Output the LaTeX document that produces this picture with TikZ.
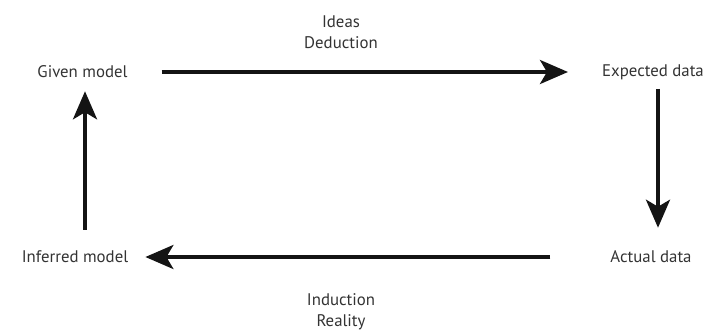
\documentclass[tikz,border=0pt]{standalone}
\usepackage{fontspec}
\setmainfont{PT Sans}
\usetikzlibrary{arrows.meta}

\begin{document}
\begin{tikzpicture}[x=1pt,y=-1pt,
	trans/.style={line width=3.8pt,-{Stealth[length=28pt,width=24pt,inset=7pt]},color=black!92},
	lbl/.style={inner sep=0pt,align=center,text=black!80,font=\fontsize{16.8}{21}\selectfont}]
\useasboundingbox (0,0) rectangle (708,332);
\node[lbl](A) at (82.5,72)
	{Given model};
\node[lbl](B) at (653,72)
	{Expected data};
\node[lbl](C) at (651,257)
	{Actual data};
\node[lbl](D) at (75,257)
	{Inferred model};
\node[lbl](E) at (341,32)
	{Ideas \\ Deduction};
\node[lbl](F) at (341,312)
	{Induction \\ Reality};
\draw[trans,shorten <=34pt,shorten >=34pt] (A.east) -- (B.west);
\draw[trans,shorten <=9pt,shorten >=23pt] ([xshift=5pt]B.south) -- ([xshift=7pt]C.north);
\draw[trans,shorten <=60pt,shorten >=17pt] (C.west) -- (D.east);
\draw[trans,shorten <=21pt,shorten >=13pt] ([xshift=10pt]D.north) -- ([xshift=2.5pt]A.south);
\end{tikzpicture}
\end{document}
